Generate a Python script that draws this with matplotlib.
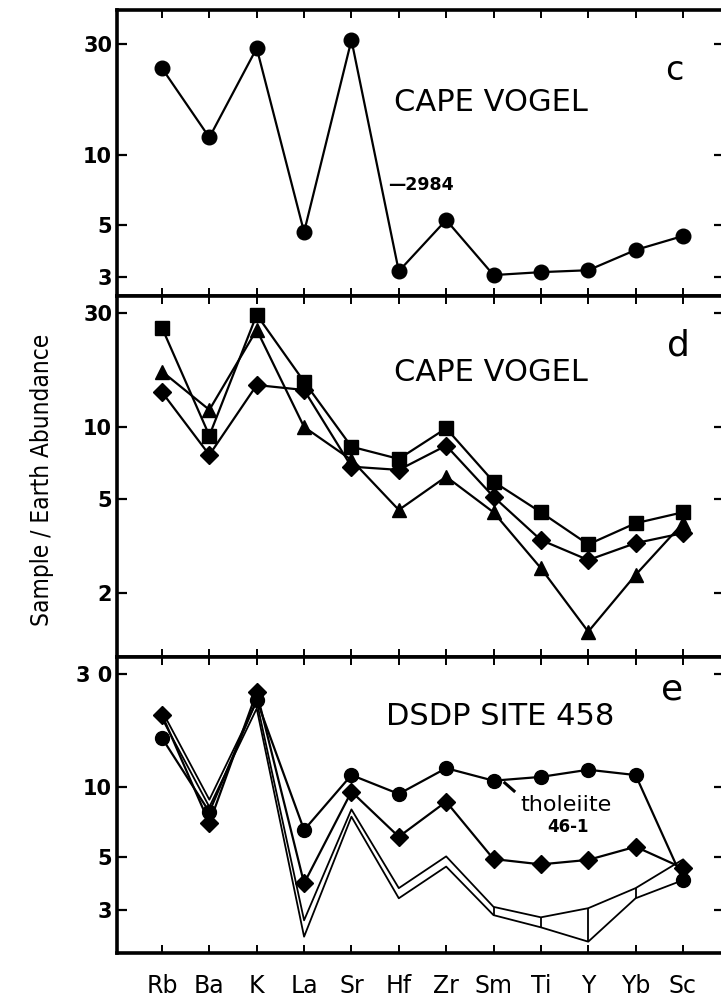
import matplotlib
matplotlib.use("Agg")
import matplotlib.pyplot as plt
from matplotlib import font_manager as fm
from matplotlib.ticker import FixedLocator, NullLocator
import numpy as np

# ---- data -----------------------------------------------------------------
elements = ["Rb", "Ba", "K", "La", "Sr", "Hf", "Zr", "Sm", "Ti", "Y", "Yb", "Sc"]

# panel c: Cape Vogel sample 2984
c_2984 = [23.6, 11.9, 28.8, 4.67, 31.2, 3.17, 5.26, 3.05, 3.14, 3.2, 3.91, 4.49]

# panel d: Cape Vogel samples
d_square = [26.1, 9.2, 29.6, 15.5, 8.26, 7.34, 9.87, 5.89, 4.38, 3.21, 3.94, 4.38]
d_triangle = [17.1, 11.8, 25.6, 10.0, 7.27, 4.48, 6.18, 4.38, 2.55, 1.38, 2.39, 3.94]
d_diamond = [14.0, 7.63, 15.0, 14.3, 6.81, 6.6, 8.35, 5.09, 3.35, 2.76, 3.25, 3.58]

# panel e: DSDP site 458
e_tholeiite = [16.1, 7.8, 23.4, 6.54, 11.2, 9.31, 11.98, 10.6, 11.0, 11.8, 11.2, 4.01]
e_diamond = [20.2, 6.99, 25.2, 3.88, 9.52, 6.12, 8.63, 4.92, 4.67, 4.88, 5.55, 4.50]
band_hi = [21.0, 8.8, 23.0, 2.7, 8.0, 3.7, 5.05, 3.08, 2.78, 3.04, 3.7, 4.9]
band_lo = [19.5, 8.2, 21.5, 2.3, 7.45, 3.35, 4.57, 2.84, 2.52, 2.19, 3.35, 4.0]
band_ties = ["Sm", "Ti", "Y", "Yb"]

c_ticks, c_labels = [3, 5, 10, 30], ["3", "5", "10", "30"]
d_ticks, d_labels = [2, 5, 10, 30], ["2", "5", "10", "30"]
e_ticks, e_labels = [3, 5, 10, 30], ["3", "5", "10", "3 0"]

# ---- fonts ----------------------------------------------------------------
def condensed_font():
    prefs = ["DejaVu Sans", "Liberation Sans Narrow", "Roboto", "Open Sans", "Noto Sans"]
    found = []
    for f in fm.fontManager.ttflist:
        name = f.name
        st = str(f.stretch).lower()
        is_cond = ("condensed" in st) or ("Condensed" in name) or ("Narrow" in name) \
            or ("condensed" in f.fname.lower()) or ("narrow" in f.fname.lower())
        if not is_cond or f.style != "normal":
            continue
        w = f.weight if isinstance(f.weight, int) else {"normal": 400, "regular": 400}.get(str(f.weight), 700)
        if w != 400:
            continue
        found.append(f)
    for p in prefs:
        for f in found:
            if f.name.startswith(p):
                return fm.FontProperties(fname=f.fname)
    if found:
        return fm.FontProperties(fname=found[0].fname)
    return None

cond = condensed_font()

plt.rcParams["font.family"] = ["DejaVu Sans"]
plt.rcParams["axes.linewidth"] = 2.6

W, H = 721, 1000
fig = plt.figure(figsize=(W / 100, H / 100), dpi=100)

left_px, right_px = 117, 724
x_first, x_step = 162, 47.36
xlim = ((left_px - x_first) / x_step, (right_px - x_first) / x_step)

def add_panel(top_px, bot_px, ylim, ticks, labels):
    ax = fig.add_axes([left_px / W, 1 - bot_px / H, (right_px - left_px) / W,
                       (bot_px - top_px) / H])
    ax.set_yscale("log")
    ax.set_xlim(*xlim)
    ax.set_ylim(*ylim)
    ax.yaxis.set_major_locator(FixedLocator(ticks))
    ax.yaxis.set_minor_locator(NullLocator())
    ax.set_yticklabels(labels, fontsize=15, fontweight="bold")
    ax.set_xticks(range(len(elements)))
    ax.tick_params(axis="y", which="major", direction="in", length=7.5, width=1.6,
                   left=True, right=True, pad=3.5)
    ax.tick_params(axis="x", which="major", direction="in", length=6, width=1.4,
                   top=True, bottom=True, labelbottom=False)
    return ax

ax_c = add_panel(10, 296, (2.48, 42.0), c_ticks, c_labels)
ax_d = add_panel(296, 657, (1.08, 35.5), d_ticks, d_labels)
ax_e = add_panel(657, 953, (1.96, 35.6), e_ticks, e_labels)

x = np.arange(len(elements))
lw = 1.6

# panel c
ax_c.plot(x, c_2984, color="black", lw=lw, marker="o", ms=10.5, zorder=3)

# panel d
ax_d.plot(x, d_triangle, color="black", lw=lw, marker="^", ms=10.5, zorder=3)
ax_d.plot(x, d_diamond, color="black", lw=lw, marker="D", ms=9, zorder=3)
ax_d.plot(x, d_square, color="black", lw=lw, marker="s", ms=9.5, zorder=4)

# panel e
ax_e.plot(x, band_hi, color="black", lw=1.3, zorder=2)
ax_e.plot(x, band_lo, color="black", lw=1.3, zorder=2)
tie_idx = [elements.index(t) for t in band_ties]
ax_e.vlines(tie_idx, [band_lo[i] for i in tie_idx], [band_hi[i] for i in tie_idx],
            color="black", lw=1.3, zorder=2)
ax_e.plot(x, e_tholeiite, color="black", lw=lw, marker="o", ms=10, zorder=3)
ax_e.plot(x, e_diamond, color="black", lw=lw, marker="D", ms=9, zorder=4)

# labels inside panels
label_kw = dict(ha="center", va="center", fontsize=22)
ax_c.text(0.616, 0.675, "CAPE VOGEL", transform=ax_c.transAxes, **label_kw)
ax_c.text(0.918, 0.79, "c", transform=ax_c.transAxes, ha="center", va="center", fontsize=24)
ax_c.text(0.446, 0.388, "\u20142984", transform=ax_c.transAxes, ha="left", va="center",
          fontsize=12.5, fontweight="bold")

ax_d.text(0.616, 0.789, "CAPE VOGEL", transform=ax_d.transAxes, **label_kw)
ax_d.text(0.925, 0.864, "d", transform=ax_d.transAxes, ha="center", va="center", fontsize=26)

ax_e.text(0.631, 0.80, "DSDP SITE 458", transform=ax_e.transAxes, **label_kw)
ax_e.text(0.915, 0.889, "e", transform=ax_e.transAxes, ha="center", va="center", fontsize=26)
ax_e.text(0.664, 0.50, "tholeiite", transform=ax_e.transAxes, ha="left", va="center",
          fontsize=16)
ax_e.text(0.743, 0.426, "46-1", transform=ax_e.transAxes, ha="center", va="center",
          fontsize=12, fontweight="bold")
ax_e.plot([0.637, 0.656], [0.578, 0.544], transform=ax_e.transAxes, color="black",
          lw=2.2, solid_capstyle="butt", clip_on=False)

# element names under the bottom panel
for i, name in enumerate(elements):
    fig.text((x_first + i * x_step) / W, 1 - 986 / H, name, ha="center", va="center",
             fontsize=17)

# shared y label
if cond is not None:
    fig.text(42 / W, 1 - 480 / H, "Sample / Earth Abundance", rotation=90,
             ha="center", va="center", fontproperties=cond, fontsize=17.5)
else:
    fig.text(42 / W, 1 - 480 / H, "Sample / Earth Abundance", rotation=90,
             ha="center", va="center", family=["Roboto", "DejaVu Sans"], fontsize=14)

fig.savefig("out.png", dpi=100)
